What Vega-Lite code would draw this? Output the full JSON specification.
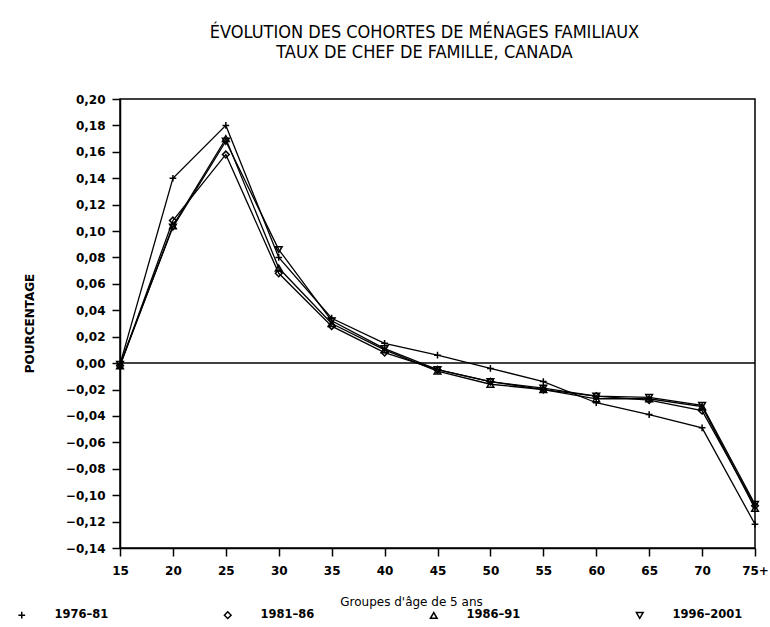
{
  "$schema": "https://vega.github.io/schema/vega-lite/v6.json",
  "width": 635,
  "height": 449,
  "autosize": {"type": "none"},
  "padding": {"left": 120, "top": 99, "right": 15, "bottom": 79},
  "background": "white",
  "title": {
    "text": ["ÉVOLUTION DES COHORTES DE MÉNAGES FAMILIAUX", "TAUX DE CHEF DE FAMILLE, CANADA"],
    "font": "DejaVu Sans Condensed",
    "fontSize": 18,
    "fontWeight": "normal",
    "color": "black",
    "anchor": "middle",
    "frame": "group",
    "dx": -13,
    "offset": 31,
    "lineHeight": 20
  },
  "config": {
    "view": {"stroke": "black", "strokeWidth": 1.5},
    "axis": {
      "domainColor": "black",
      "domainWidth": 1.5,
      "tickColor": "black",
      "tickWidth": 1.5,
      "tickSize": 8,
      "labelFont": "DejaVu Sans",
      "labelFontWeight": "bold",
      "labelFontSize": 12,
      "labelColor": "black",
      "titleFont": "DejaVu Sans",
      "titleFontWeight": "bold",
      "titleFontSize": 11,
      "titleColor": "black",
      "grid": false
    },
    "legend": {
      "labelFont": "DejaVu Sans",
      "labelFontWeight": "bold",
      "labelFontSize": 11.5,
      "labelColor": "black"
    }
  },
  "data": {
    "values": [
      {"age": 15, "serie": "1976–81", "value": -0.001},
      {"age": 20, "serie": "1976–81", "value": 0.140},
      {"age": 25, "serie": "1976–81", "value": 0.180},
      {"age": 30, "serie": "1976–81", "value": 0.080},
      {"age": 35, "serie": "1976–81", "value": 0.034},
      {"age": 40, "serie": "1976–81", "value": 0.015},
      {"age": 45, "serie": "1976–81", "value": 0.006},
      {"age": 50, "serie": "1976–81", "value": -0.004},
      {"age": 55, "serie": "1976–81", "value": -0.014},
      {"age": 60, "serie": "1976–81", "value": -0.030},
      {"age": 65, "serie": "1976–81", "value": -0.039},
      {"age": 70, "serie": "1976–81", "value": -0.049},
      {"age": 75, "serie": "1976–81", "value": -0.122},
      {"age": 15, "serie": "1981–86", "value": -0.002},
      {"age": 20, "serie": "1981–86", "value": 0.108},
      {"age": 25, "serie": "1981–86", "value": 0.158},
      {"age": 30, "serie": "1981–86", "value": 0.068},
      {"age": 35, "serie": "1981–86", "value": 0.028},
      {"age": 40, "serie": "1981–86", "value": 0.008},
      {"age": 45, "serie": "1981–86", "value": -0.005},
      {"age": 50, "serie": "1981–86", "value": -0.014},
      {"age": 55, "serie": "1981–86", "value": -0.020},
      {"age": 60, "serie": "1981–86", "value": -0.025},
      {"age": 65, "serie": "1981–86", "value": -0.028},
      {"age": 70, "serie": "1981–86", "value": -0.036},
      {"age": 75, "serie": "1981–86", "value": -0.108},
      {"age": 15, "serie": "1986–91", "value": -0.002},
      {"age": 20, "serie": "1986–91", "value": 0.104},
      {"age": 25, "serie": "1986–91", "value": 0.170},
      {"age": 30, "serie": "1986–91", "value": 0.072},
      {"age": 35, "serie": "1986–91", "value": 0.030},
      {"age": 40, "serie": "1986–91", "value": 0.010},
      {"age": 45, "serie": "1986–91", "value": -0.006},
      {"age": 50, "serie": "1986–91", "value": -0.016},
      {"age": 55, "serie": "1986–91", "value": -0.020},
      {"age": 60, "serie": "1986–91", "value": -0.027},
      {"age": 65, "serie": "1986–91", "value": -0.027},
      {"age": 70, "serie": "1986–91", "value": -0.033},
      {"age": 75, "serie": "1986–91", "value": -0.110},
      {"age": 15, "serie": "1996–2001", "value": -0.001},
      {"age": 20, "serie": "1996–2001", "value": 0.103},
      {"age": 25, "serie": "1996–2001", "value": 0.168},
      {"age": 30, "serie": "1996–2001", "value": 0.086},
      {"age": 35, "serie": "1996–2001", "value": 0.032},
      {"age": 40, "serie": "1996–2001", "value": 0.011},
      {"age": 45, "serie": "1996–2001", "value": -0.005},
      {"age": 50, "serie": "1996–2001", "value": -0.014},
      {"age": 55, "serie": "1996–2001", "value": -0.019},
      {"age": 60, "serie": "1996–2001", "value": -0.025},
      {"age": 65, "serie": "1996–2001", "value": -0.026},
      {"age": 70, "serie": "1996–2001", "value": -0.032},
      {"age": 75, "serie": "1996–2001", "value": -0.107}
    ]
  },
  "encoding": {
    "x": {
      "field": "age",
      "type": "quantitative",
      "scale": {"domain": [15, 75], "nice": false, "zero": false},
      "axis": {
        "values": [15, 20, 25, 30, 35, 40, 45, 50, 55, 60, 65, 70, 75],
        "labelExpr": "datum.value == 75 ? '75+' : datum.label",
        "labelFlush": false,
        "labelPadding": 9,
        "title": "Groupes d'âge de 5 ans",
        "titleFontWeight": "normal",
        "titleFontSize": 12,
        "titleX": 291,
        "titleY": 53,
        "titleBaseline": "middle"
      }
    },
    "y": {
      "field": "value",
      "type": "quantitative",
      "scale": {"domain": [-0.14, 0.2], "nice": false, "zero": false},
      "axis": {
        "values": [-0.14, -0.12, -0.1, -0.08, -0.06, -0.04, -0.02, 0, 0.02, 0.04, 0.06, 0.08, 0.1, 0.12, 0.14, 0.16, 0.18, 0.2],
        "labelExpr": "replace(format(datum.value, '.2f'), '.', ',')",
        "labelFlush": false,
        "labelPadding": 7,
        "title": "POURCENTAGE",
        "titleX": -91,
        "titleY": 224,
        "titleAnchor": "middle",
        "titleBaseline": "middle",
        "titleFontSize": 12
      }
    }
  },
  "layer": [
    {
      "data": {"values": [{"zero": 0}]},
      "mark": {"type": "rule", "color": "black", "strokeWidth": 1.5},
      "encoding": {"y": {"field": "zero", "type": "quantitative"}, "x": null}
    },
    {
      "mark": {"type": "line", "color": "black", "strokeWidth": 1.3},
      "encoding": {"detail": {"field": "serie", "type": "nominal"}}
    },
    {
      "mark": {"type": "point", "filled": false, "color": "black", "strokeWidth": 1.5, "size": 45, "opacity": 1},
      "encoding": {
        "shape": {
          "field": "serie",
          "type": "nominal",
          "scale": {
            "domain": ["1976–81", "1981–86", "1986–91", "1996–2001"],
            "range": ["M-1,0H1M0,-1V1", "diamond", "triangle-up", "triangle-down"]
          },
          "legend": {
            "title": null,
            "orient": "none",
            "direction": "horizontal",
            "columns": 4,
            "legendX": -104,
            "legendY": 510,
            "symbolOffset": 0,
            "labelOffset": 27,
            "columnPadding": 112,
            "symbolStrokeColor": "black",
            "symbolFillColor": "transparent",
            "symbolStrokeWidth": 1.5,
            "symbolSize": 45
          }
        }
      }
    }
  ]
}
